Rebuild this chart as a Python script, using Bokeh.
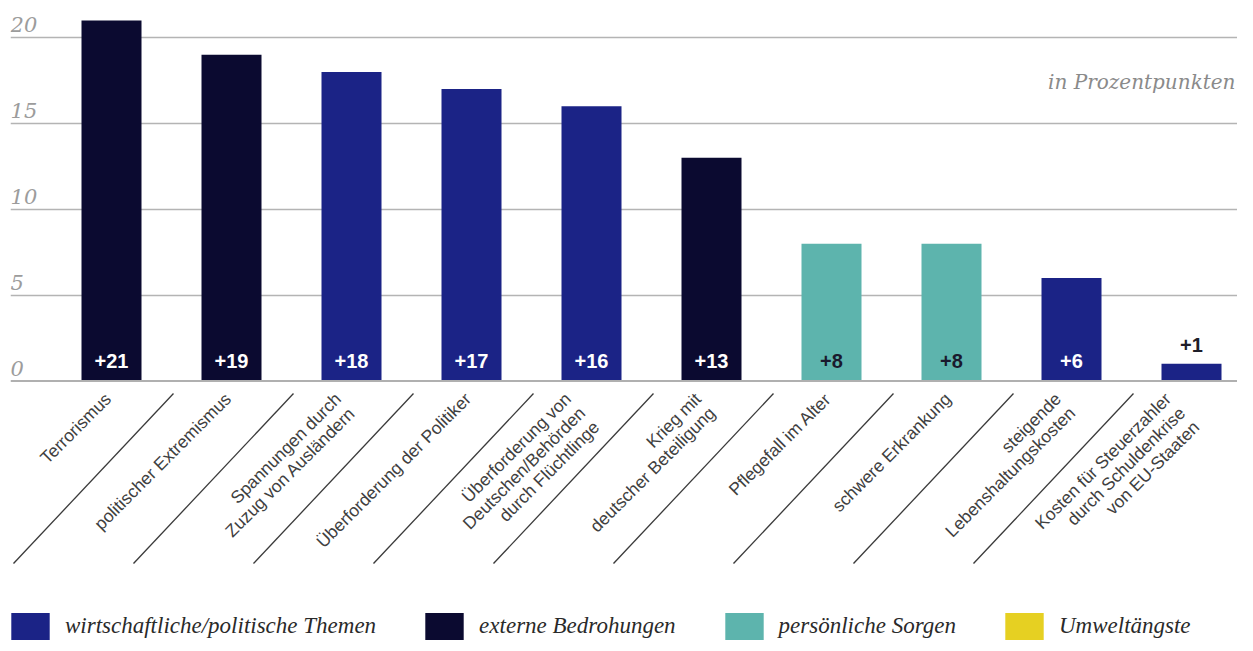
import math
from bokeh.plotting import figure
from bokeh.models import ColumnDataSource, Range1d, Span, Legend, LegendItem, Grid, FixedTicker
from bokeh.core.properties import value
from bokeh.embed import file_html
from bokeh.resources import INLINE

# ---------------- data ----------------
categories = [
    "Terrorismus",
    "politischer Extremismus",
    "Spannungen durch\nZuzug von Ausländern",
    "Überforderung der Politiker",
    "Überforderung von\nDeutschen/Behörden\ndurch Flüchtlinge",
    "Krieg mit\ndeutscher Beteiligung",
    "Pflegefall im Alter",
    "schwere Erkrankung",
    "steigende\nLebenshaltungskosten",
    "Kosten für Steuerzahler\ndurch Schuldenkrise\nvon EU-Staaten",
]
values = [21, 19, 18, 17, 16, 13, 8, 8, 6, 1]
groups = ["ext", "ext", "wirt", "wirt", "wirt", "ext", "pers", "pers", "wirt", "wirt"]

group_keys = ["wirt", "ext", "pers", "umw"]
group_labels = ["wirtschaftliche/politische Themen", "externe Bedrohungen",
                "persönliche Sorgen", "Umweltängste"]
group_colors = ["#1b2386", "#0b0a30", "#5db4ad", "#e6d022"]
group_text_colors = ["#ffffff", "#ffffff", "#1a1a2e", "#1a1a2e"]

y_ticks = [0, 5, 10, 15, 20]
y_tick_labels = ["0", "5", "10", "15", "20"]
unit_label = "in Prozentpunkten"

# ---------------- pixel geometry ----------------
W, H = 1237, 643
LEFT = 10                    # frame left edge (px)
PX_PER_UNIT = 17.17          # vertical pixels per percentage point
ZERO_PY = 380.5              # pixel row of value 0
CAT_PX = 120.0               # pixels per category
FIRST_PX = 111.0             # pixel column of first category centre
BASE_FIX = 8                 # svg baseline correction (px)

def py_to_y(py):
    return (ZERO_PY - py) / PX_PER_UNIT

def px_to_x(px):
    return (px - FIRST_PX) / CAT_PX

x_start, x_end = px_to_x(LEFT), px_to_x(W)
y_start, y_end = py_to_y(H), py_to_y(0)

p = figure(width=W, height=H, output_backend="svg", toolbar_location=None,
           x_range=Range1d(x_start, x_end), y_range=Range1d(y_start, y_end),
           x_axis_location=None, y_axis_location=None,
           min_border_left=LEFT, min_border_right=0, min_border_top=0, min_border_bottom=0)
p.outline_line_color = None
p.background_fill_color = "white"
p.border_fill_color = "white"
for g in p.grid:
    g.visible = False

p.add_layout(Grid(dimension=1, ticker=FixedTicker(ticks=y_ticks[1:]),
                  grid_line_color="#b4b4b4", grid_line_width=1.3))
p.add_layout(Span(location=0, dimension="width", line_color="#b0b0b0", line_width=2.2))

# y tick labels, sitting just above their grid lines
p.text(x=[x_start + 0.001] * len(y_ticks),
       y=[t + (5 + BASE_FIX) / PX_PER_UNIT for t in y_ticks],
       text=y_tick_labels, text_align="left", text_baseline="alphabetic",
       text_font=value("DejaVu Serif"), text_font_style="italic",
       text_font_size="21px", text_color="#9c9c9c")

# bars per group (for the legend)
xs = list(range(len(categories)))
renderers = {}
for key, col in zip(group_keys, group_colors):
    idx = [i for i, g in enumerate(groups) if g == key]
    bx = [xs[i] for i in idx]
    bt = [values[i] for i in idx]
    if not idx:  # group without bars: zero-height entry so the legend swatch renders
        bx, bt = [xs[0]], [0]
    src = ColumnDataSource(dict(x=bx, top=bt))
    renderers[key] = p.vbar(x="x", top="top", bottom=0, width=0.5, source=src,
                            fill_color=col, line_color=None)

# value labels
lab_x, lab_y, lab_t, lab_c = [], [], [], []
for i, (v, g) in enumerate(zip(values, groups)):
    lab_x.append(xs[i])
    lab_t.append("+%d" % v)
    if v >= 3:
        lab_y.append((12.5 + BASE_FIX) / PX_PER_UNIT)
        lab_c.append(group_text_colors[group_keys.index(g)])
    else:
        lab_y.append(v + (11 + BASE_FIX) / PX_PER_UNIT)
        lab_c.append("#1e1e2a")
p.text(x=lab_x, y=lab_y, text=lab_t, text_color=lab_c, text_align="center",
       text_baseline="alphabetic", text_font=value("Liberation Sans"),
       text_font_style="bold", text_font_size="20px")

# rotated category labels, one glyph per line, right aligned
STEP = 14.1
lx, ly, lt = [], [], []
for i, c in enumerate(categories):
    lines = c.split("\n")
    n = len(lines)
    for k, line in enumerate(lines):
        dxp = -10 * (n - 1) + STEP * k + 8.5 - 12
        dyp = 393 + STEP * k + 8.5 - 6
        lx.append(xs[i] + dxp / CAT_PX)
        ly.append(py_to_y(dyp))
        lt.append(line)
p.text(x=lx, y=ly, text=lt, angle=math.pi / 4, text_align="right",
       text_baseline="alphabetic", text_font=value("Liberation Sans"),
       text_font_size="17.5px", text_color="#404040")

# diagonal separators between categories
sx0 = [xs[i] + 0.5 + 2 / CAT_PX for i in range(len(categories) - 1)]
sx1 = [x - 160 / CAT_PX for x in sx0]
p.segment(x0=sx0, y0=[py_to_y(393)] * len(sx0), x1=sx1,
          y1=[py_to_y(563)] * len(sx0), line_color="#3a3a3a", line_width=1.3)

# unit note
p.text(x=[px_to_x(W - 2)], y=[py_to_y(89 - BASE_FIX)], text=[unit_label], text_align="right",
       text_baseline="alphabetic", text_font=value("DejaVu Serif"), text_font_style="italic",
       text_font_size="20px", text_color="#8a8a8a")

legend = Legend(items=[LegendItem(label=lbl, renderers=[renderers[k]])
                       for k, lbl in zip(group_keys, group_labels)],
                orientation="horizontal", location=(-4, 0),
                glyph_width=48, glyph_height=34, label_height=34, label_standoff=11,
                spacing=44, padding=0, margin=0, border_line_color=None,
                background_fill_alpha=0,
                label_text_font="Liberation Serif", label_text_font_style="italic",
                label_text_font_size="23px", label_text_color="#2a2a2a")
p.add_layout(legend)

open("out.html", "w").write(file_html(p, INLINE))
